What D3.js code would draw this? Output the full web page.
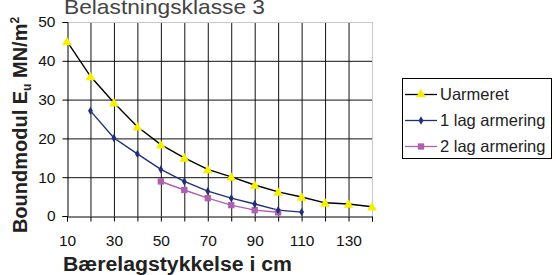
<!DOCTYPE html>
<html><head><meta charset="utf-8">
<script src="https://cdn.jsdelivr.net/npm/d3@7"></script>
<style>
html,body{margin:0;padding:0;background:#fff;}
svg{display:block;font-family:"Liberation Sans",Arial,sans-serif;}
</style></head>
<body>
<svg id="c" width="556" height="275"></svg>
<script>
const xValues = [10,20,30,40,50,60,70,80,90,100,110,120,130,140];
const uarmeret = [45,36,29.2,23,18.4,15,12,10.1,8,6.2,4.9,3.4,3.1,2.4];
const lag1X = [20,30,40,50,60,70,80,90,100,110];
const lag1 = [27.1,20.1,16,12,8.9,6.4,4.6,3.1,1.5,1.0];
const lag2X = [50,60,70,80,90,100];
const lag2 = [8.9,6.7,4.6,2.8,1.5,0.95];
const xTickLabels = [10,30,50,70,90,110,130];
const yTicks = [0,10,20,30,40,50];
const seriesNames = ["Uarmeret","1 lag armering","2 lag armering"];
const title = "Belastningsklasse 3";
const xTitle = "Bærelagstykkelse i cm";

const svg = d3.select("#c");
const x = d3.scaleLinear().domain([10,140]).range([67,372]);
const y = d3.scaleLinear().domain([0,50]).range([216,22]);

// grid
const g = svg.append("g");
g.selectAll(".vg").data(xValues.slice(1,-1)).enter().append("line")
  .attr("x1",d=>x(d)+0.5).attr("x2",d=>x(d)+0.5).attr("y1",y(50)).attr("y2",y(0))
  .attr("stroke","#111").attr("stroke-width",1);
g.selectAll(".hg").data(yTicks.slice(1,-1)).enter().append("line")
  .attr("x1",x(10)).attr("x2",x(140)).attr("y1",d=>y(d)+0.5).attr("y2",d=>y(d)+0.5)
  .attr("stroke","#111").attr("stroke-width",1);
g.append("line").attr("x1",x(10)).attr("x2",x(140)+0.5).attr("y1",y(50)+0.5).attr("y2",y(50)+0.5).attr("stroke","#c8c8c8");
g.append("line").attr("x1",x(140)+0.5).attr("x2",x(140)+0.5).attr("y1",y(50)).attr("y2",y(0)).attr("stroke","#c8c8c8");

// axes
const xAxis = d3.axisBottom(x).tickValues(xValues).tickSize(5)
  .tickFormat(d=>xTickLabels.includes(d)?d:"");
const gx = svg.append("g").attr("transform",`translate(0,${y(0)+0.5})`).call(xAxis);
gx.select(".domain").attr("stroke","#000");
gx.selectAll(".tick line").attr("stroke","#000");
gx.selectAll(".tick text").attr("font-size",15.5).attr("fill","#111").attr("y",14).attr("dy","1em")
  .attr("font-family","Liberation Sans, Arial, sans-serif");

const yAxis = d3.axisLeft(y).tickValues(yTicks).tickSize(5).tickFormat(d3.format("d"));
const gy = svg.append("g").attr("transform",`translate(${x(10)+0.5},0)`).call(yAxis);
gy.select(".domain").attr("stroke","#000");
gy.selectAll(".tick line").attr("stroke","#000");
gy.selectAll(".tick text").attr("font-size",15.5).attr("fill","#111").attr("x",-12)
  .attr("font-family","Liberation Sans, Arial, sans-serif");

// series
const line = d3.line().x(d=>x(d[0])).y(d=>y(d[1]));
const s1 = xValues.map((v,i)=>[v,uarmeret[i]]);
const s2 = lag1X.map((v,i)=>[v,lag1[i]]);
const s3 = lag2X.map((v,i)=>[v,lag2[i]]);

const colors = ["#000","#1f2f78","#b060b0"];
svg.append("path").datum(s3).attr("d",line).attr("fill","none").attr("stroke",colors[2]).attr("stroke-width",1.4);
svg.append("path").datum(s2).attr("d",line).attr("fill","none").attr("stroke",colors[1]).attr("stroke-width",1.4);
svg.append("path").datum(s1).attr("d",line).attr("fill","none").attr("stroke",colors[0]).attr("stroke-width",1.4);

const tri = d3.symbol().type(d3.symbolTriangle).size(42);
const dia = d3.symbol().type(d3.symbolDiamond).size(20);
const sq = d3.symbol().type(d3.symbolSquare).size(40);

svg.selectAll(".m3").data(s3).enter().append("path").attr("d",sq)
  .attr("transform",d=>`translate(${x(d[0])},${y(d[1])})`).attr("fill","#b060b0");
svg.selectAll(".m2").data(s2).enter().append("path").attr("d",dia)
  .attr("transform",d=>`translate(${x(d[0])},${y(d[1])})`).attr("fill","#1f2f78");
svg.selectAll(".m1").data(s1).enter().append("path").attr("d",tri)
  .attr("transform",d=>`translate(${x(d[0])},${y(d[1])+1})`).attr("fill","#f5f000");

// titles
svg.append("text").attr("x",64).attr("y",14).attr("font-size",21).attr("fill","#444")
  .attr("textLength",201).attr("lengthAdjust","spacingAndGlyphs").text(title);
svg.append("text").attr("x",63).attr("y",271)
  .attr("font-size",20).attr("font-weight","bold").attr("fill","#222")
  .attr("textLength",229).attr("lengthAdjust","spacingAndGlyphs").text(xTitle);
const yt = svg.append("text").attr("transform","translate(27,125) rotate(-90)")
  .attr("text-anchor","middle").attr("font-size",20).attr("font-weight","bold").attr("fill","#222");
yt.append("tspan").text("Boundmodul E");
yt.append("tspan").attr("font-size",12).attr("dy",4).text("u");
yt.append("tspan").attr("dy",-4).text(" MN/m");
yt.append("tspan").attr("font-size",12).attr("dy",-8).text("2");

// legend
const lg = svg.append("g");
lg.append("rect").attr("x",402.5).attr("y",78.5).attr("width",149).attr("height",80)
  .attr("fill","#fff").attr("stroke","#000");
const syms = [tri,dia,sq];
const mcol = ["#f5f000","#1f2f78","#b060b0"];
seriesNames.forEach((n,i)=>{
  const cy = 94 + i*26;
  lg.append("line").attr("x1",405).attr("x2",437).attr("y1",cy+0.5).attr("y2",cy+0.5)
    .attr("stroke",colors[i]).attr("stroke-width",1.3);
  lg.append("path").attr("d",syms[i]).attr("transform",`translate(421,${cy+0.5})`).attr("fill",mcol[i]);
  lg.append("text").attr("x",440).attr("y",cy+6).attr("font-size",16.5).attr("fill","#222").text(n);
});
</script>
</body></html>
